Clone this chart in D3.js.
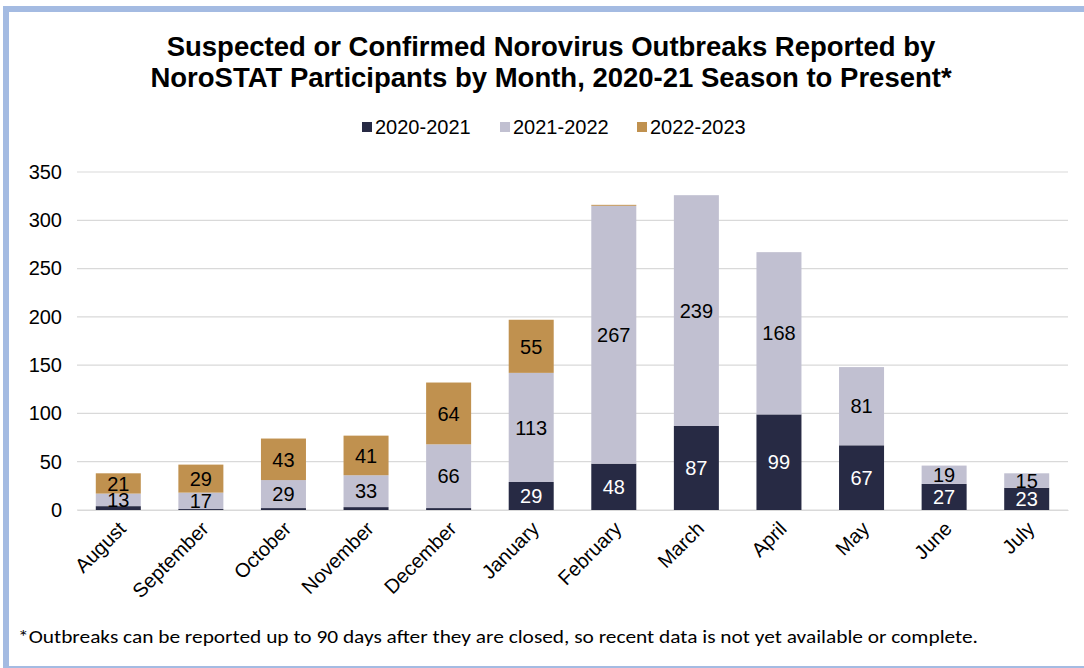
<!DOCTYPE html>
<html>
<head>
<meta charset="utf-8">
<script src="https://cdn.jsdelivr.net/npm/d3@7"></script>
<style>
  body { margin: 0; background: #fff; }
  svg { display: block; font-family: "Liberation Sans", Arial, sans-serif; }
</style>
</head>
<body>
<div id="chart"></div>
<script>
const months = ['August', 'September', 'October', 'November', 'December', 'January',
  'February', 'March', 'April', 'May', 'June', 'July'];
const seasons = ['2020-2021', '2021-2022', '2022-2023'];
const s2020 = [4, 1, 2, 3, 2, 29, 48, 87, 99, 67, 27, 23];
const s2021 = [13, 17, 29, 33, 66, 113, 267, 239, 168, 81, 19, 15];
const s2022 = [21, 29, 43, 41, 64, 55, 1, 0, 0, 0, 0, 0];
const yTicks = [0, 50, 100, 150, 200, 250, 300, 350];
const colors = ['#272a44', '#c1c0d1', '#c0914f'];

const font = '"Liberation Sans", Arial, sans-serif';
const width = 1084, height = 668;
const margin = { top: 172, right: 16, bottom: 158, left: 77 };

const svg = d3.select('#chart').append('svg')
  .attr('width', width)
  .attr('height', height);

// frame
svg.append('rect').attr('x', 0).attr('y', 0).attr('width', width).attr('height', height).attr('fill', '#fff');
svg.append('rect').attr('x', 3).attr('y', 6).attr('width', width - 3).attr('height', 6).attr('fill', '#a4bbe2');
svg.append('rect').attr('x', 3).attr('y', 6).attr('width', 6).attr('height', height - 6).attr('fill', '#a4bbe2');
svg.append('rect').attr('x', 3).attr('y', height - 2).attr('width', width - 3).attr('height', 2).attr('fill', '#a4bbe2');

const rows = months.map((m, i) => ({ month: m, '2020-2021': s2020[i], '2021-2022': s2021[i], '2022-2023': s2022[i] }));
const stacked = d3.stack().keys(seasons)(rows);

const x = d3.scaleBand()
  .domain(months)
  .range([margin.left, width - margin.right])
  .paddingInner(0.455)
  .paddingOuter(0.2275);

const y = d3.scaleLinear()
  .domain([0, 350])
  .range([height - margin.bottom, margin.top]);

// grid
svg.append('g')
  .selectAll('line')
  .data(yTicks)
  .enter()
  .append('line')
  .attr('x1', margin.left)
  .attr('x2', width - margin.right)
  .attr('y1', d => y(d))
  .attr('y2', d => y(d))
  .attr('stroke', '#d9d9d9')
  .attr('stroke-width', 1.2);

const yAxis = d3.axisLeft(y).tickValues(yTicks).tickSize(0).tickPadding(15);
const yg = svg.append('g')
  .attr('transform', `translate(${margin.left}, 0)`)
  .call(yAxis);
yg.select('.domain').remove();
yg.selectAll('text').attr('font-size', 20).attr('fill', '#000').attr('font-family', font);

// bars
const layers = svg.append('g')
  .selectAll('g')
  .data(stacked)
  .enter()
  .append('g')
  .attr('fill', (d, i) => colors[i]);

layers.selectAll('rect')
  .data(d => d)
  .enter()
  .append('rect')
  .attr('x', d => x(d.data.month))
  .attr('width', x.bandwidth())
  .attr('y', d => y(d[1]))
  .attr('height', d => y(d[0]) - y(d[1]));

// value labels
stacked.forEach((layer, i) => {
  svg.append('g')
    .selectAll('text')
    .data(layer.filter(d => d[1] - d[0] >= 10))
    .enter()
    .append('text')
    .attr('x', d => x(d.data.month) + x.bandwidth() / 2)
    .attr('y', d => y((d[0] + d[1]) / 2))
    .attr('dy', '0.36em')
    .attr('text-anchor', 'middle')
    .attr('font-size', 20)
    .attr('font-family', font)
    .attr('fill', i === 0 ? '#fff' : '#000')
    .text(d => d[1] - d[0]);
});

// x axis
const xAxis = d3.axisBottom(x).tickSize(0).tickPadding(0);
const xg = svg.append('g')
  .attr('transform', `translate(0, ${y(0)})`)
  .call(xAxis);
xg.select('.domain').attr('stroke', '#d9d9d9').attr('stroke-width', 1.2);
xg.selectAll('text')
  .attr('font-size', 20)
  .attr('fill', '#000')
  .attr('font-family', font)
  .attr('text-anchor', 'end')
  .attr('dy', null)
  .attr('y', 0)
  .attr('transform', 'translate(9, 20) rotate(-45)');

// title
const title = svg.append('text')
  .attr('text-anchor', 'middle')
  .attr('font-weight', 'bold')
  .attr('font-size', 27.5)
  .attr('font-family', font)
  .attr('fill', '#000');
title.append('tspan').attr('x', 551).attr('y', 56).text('Suspected or Confirmed Norovirus Outbreaks Reported by');
title.append('tspan').attr('x', 551).attr('y', 87).text('NoroSTAT Participants by Month, 2020-21 Season to Present*');

// legend
const legendX = [362, 500, 637];
const legend = svg.append('g')
  .selectAll('g')
  .data(seasons)
  .enter()
  .append('g')
  .attr('transform', (d, i) => `translate(${legendX[i]}, 127)`);
legend.append('rect')
  .attr('x', 0).attr('y', -5)
  .attr('width', 10).attr('height', 10)
  .attr('fill', (d, i) => colors[i]);
legend.append('text')
  .attr('x', 13)
  .attr('dy', '0.36em')
  .attr('font-size', 20)
  .attr('font-family', font)
  .attr('fill', '#000')
  .text(d => d);

// footnote
svg.append('text')
  .attr('x', 18)
  .attr('y', 643)
  .attr('font-size', 18)
  .attr('font-family', 'Carlito, "Liberation Sans Narrow", "Open Sans", sans-serif')
  .attr('textLength', 960)
  .attr('lengthAdjust', 'spacingAndGlyphs')
  .attr('fill', '#000')
  .text('*Outbreaks can be reported up to 90 days after they are closed, so recent data is not yet available or complete.');
</script>
</body>
</html>
